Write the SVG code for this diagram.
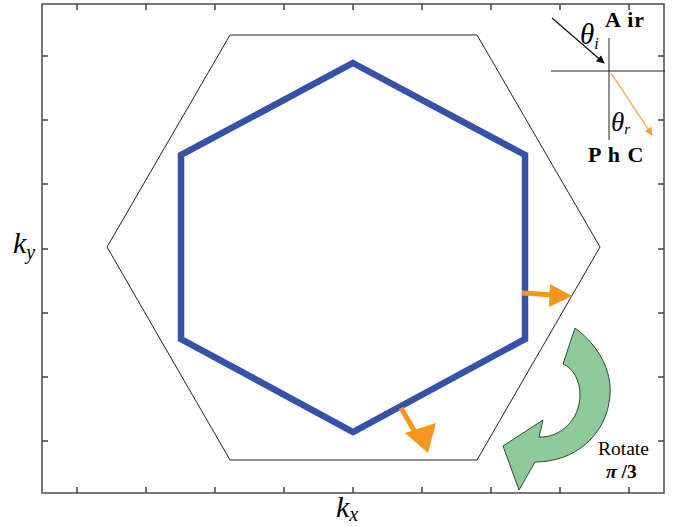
<svg xmlns="http://www.w3.org/2000/svg" width="680" height="527" viewBox="0 0 680 527">
<defs>
<style>
.frame{fill:none;stroke:#555;stroke-width:1.6}
.tick{stroke:#444;stroke-width:1.5}
.outer{fill:none;stroke:#222;stroke-width:1}
.inner{fill:none;stroke:#3552a8;stroke-width:6.5;stroke-linejoin:miter}
.orange{stroke:#f5961e;stroke-width:5;fill:none}
.ohead{fill:#f5961e}
.ser{font-family:"Liberation Serif","DejaVu Serif",serif;fill:#000}
</style>
<marker id="blk" viewBox="0 0 10 10" refX="9" refY="5" markerWidth="10" markerHeight="8" orient="auto" markerUnits="userSpaceOnUse"><path d="M0,0 L10,5 L0,10 Z" fill="#111"/></marker>
<marker id="org" viewBox="0 0 10 10" refX="9" refY="5" markerWidth="10" markerHeight="8" orient="auto" markerUnits="userSpaceOnUse"><path d="M0,0 L10,5 L0,10 Z" fill="#f5a050"/></marker>
</defs>
<rect width="680" height="527" fill="#fff"/>
<g id="frame">
<rect class="frame" x="42" y="4" width="622" height="489"/>
<g class="tick">
<path d="M77,493v-6M146,493v-6M215,493v-6M284,493v-6M353,493v-6M422,493v-6M491,493v-6M560,493v-6M629,493v-6"/>
<path d="M77,4v6M146,4v6M215,4v6M284,4v6M353,4v6M422,4v6M491,4v6M560,4v6M629,4v6"/>
<path d="M42,56h6M42,120h6M42,184h6M42,249h6M42,313h6M42,377h6M42,441h6"/>
<path d="M664,56h-6M664,120h-6M664,184h-6M664,249h-6M664,313h-6M664,377h-6M664,441h-6"/>
</g>
</g>
<g id="outer-hexagon"><polygon class="outer" points="230,35 477,35 600,247 477,460 230,460 107,247"/></g>
<g id="inner-hexagon"><polygon class="inner" points="353,63 525,155 525,339 353,432 181,339 181,155"/></g>
<g id="connectors">
<path class="orange" d="M522,293 L553,295"/>
<polygon class="ohead" points="572,296 550,284 549,307"/>
<path class="orange" d="M401,408 L415,432"/>
<polygon class="ohead" points="428,453 405,433 436,423"/>
<line x1="551" y1="71" x2="665" y2="71" stroke="#222" stroke-width="1"/>
<line x1="609" y1="38" x2="609" y2="140" stroke="#222" stroke-width="1"/>
<line x1="552" y1="18" x2="604" y2="63" stroke="#111" stroke-width="1.3" marker-end="url(#blk)"/>
<line x1="611" y1="73" x2="652" y2="135" stroke="#f5a050" stroke-width="1.3" marker-end="url(#org)"/>
</g>
<g id="rotate-arrow">
<path d="M575,328 C598,345 612,370 610,395 C607,435 575,462 535,462 L519,490 L503,446 L543,420 L539,437 C560,438 580,420 580,395 C580,380 573,368 563,364 Z" fill="#8ec99a" stroke="#2c4a38" stroke-width="1"/>
<text class="ser" x="598" y="455" font-size="19.5">Rotate</text>
<text class="ser" x="606" y="478" font-size="19.5" font-weight="bold"><tspan font-style="italic">π</tspan> /3</text>
</g>
<g id="labels">
<text class="ser" x="580" y="44" font-size="29" font-style="italic">θ<tspan font-size="16" dy="5">i</tspan></text>
<text class="ser" x="605" y="27" font-size="22" font-weight="bold" letter-spacing="1">A ir</text>
<text class="ser" x="611" y="131" font-size="27" font-style="italic">θ<tspan font-size="15" dy="3">r</tspan></text>
<text class="ser" x="588" y="162" font-size="22" font-weight="bold" letter-spacing="1">P h C</text>
<text class="ser" x="13" y="253" font-size="30" font-style="italic">k<tspan font-size="20" dy="6">y</tspan></text>
<text class="ser" x="336" y="517" font-size="30" font-style="italic">k<tspan font-size="20" dy="4">x</tspan></text>
</g>
</svg>
